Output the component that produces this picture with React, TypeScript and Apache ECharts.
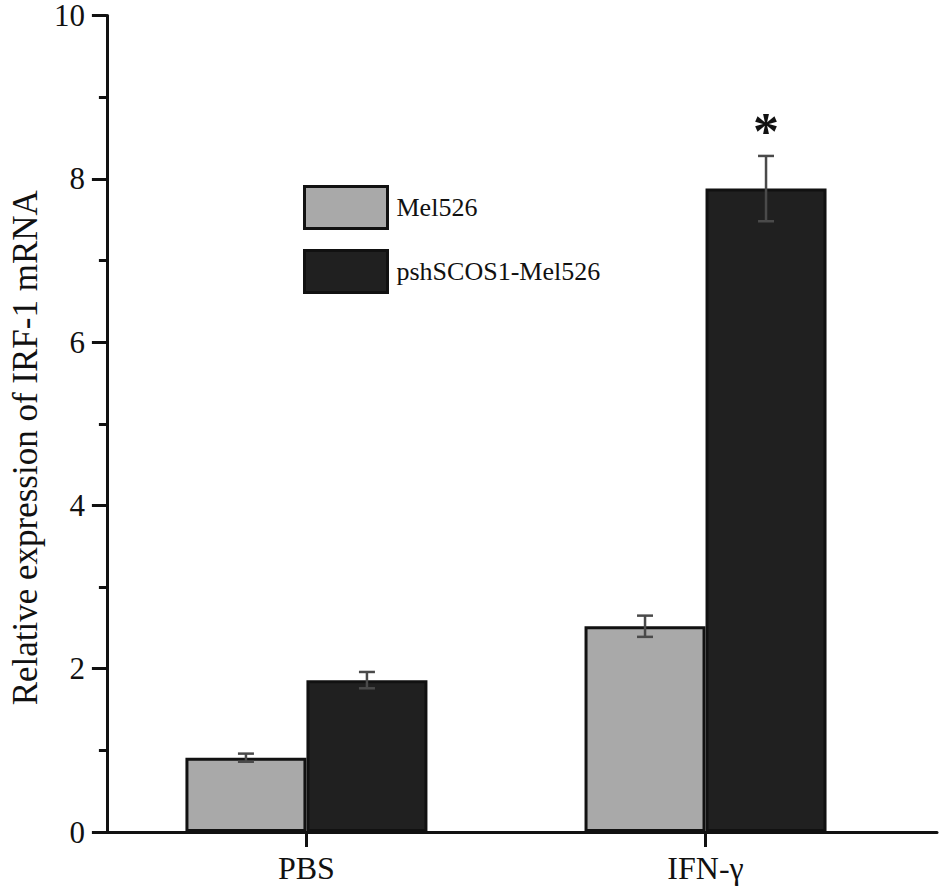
import React, { useEffect, useRef } from "react";
import * as echarts from "echarts";

const categories = ["PBS", "IFN-γ"];
const seriesNames = ["Mel526", "pshSCOS1-Mel526"];
const mel526Values = [0.91, 2.52];
const mel526Errors = [0.05, 0.13];
const pshValues = [1.86, 7.88];
const pshErrors = [0.1, 0.4];
const pshSignificance = ["", "*"];
const yAxisTitle = "Relative expression of IRF-1 mRNA";

const FONT = "'Liberation Serif', 'Times New Roman', serif";
const BAR_W = 121;

// category i sits at position 2*i+1 on the value-based x axis
const catPos = (i: number) => 2 * i + 1;

export default function App() {
  const ref = useRef<HTMLDivElement>(null);
  useEffect(() => {
    if (!ref.current) return;
    const chart = echarts.init(ref.current, null, { renderer: "svg" });

    const errData: any[] = [];
    categories.forEach((_, i) => {
      errData.push([catPos(i), mel526Values[i], mel526Errors[i], -1, ""]);
      errData.push([catPos(i), pshValues[i], pshErrors[i], 1, pshSignificance[i]]);
    });

    chart.setOption({
      animation: false,
      backgroundColor: "#ffffff",
      textStyle: { fontFamily: FONT },
      grid: { left: 101, right: 8, top: 15, bottom: 64 },
      legend: {
        data: seriesNames,
        orient: "vertical",
        left: 303,
        top: 185,
        padding: 0,
        itemWidth: 83,
        itemHeight: 42,
        itemGap: 19,
        icon: "rect",
        itemStyle: { borderColor: "#111", borderWidth: 3 },
        textStyle: { fontSize: 26, fontFamily: FONT, color: "#111", padding: [0, 0, 0, 4] },
      },
      xAxis: {
        type: "value",
        min: 0,
        max: 4.16,
        axisLine: { show: true, onZero: false, lineStyle: { color: "#111", width: 3 } },
        axisTick: { show: true, customValues: categories.map((_, i) => catPos(i)), length: 15, lineStyle: { color: "#111", width: 3 } },
        axisLabel: {
          customValues: categories.map((_, i) => catPos(i)),
          formatter: (v: number) => categories[Math.round((v - 1) / 2)] ?? "",
          fontSize: 32,
          fontFamily: FONT,
          color: "#111",
          margin: 20,
        },
        splitLine: { show: false },
      },
      yAxis: {
        type: "value",
        min: 0,
        max: 10,
        interval: 2,
        name: yAxisTitle,
        nameLocation: "middle",
        nameGap: 62,
        nameTextStyle: { fontSize: 35, fontFamily: FONT, color: "#111", padding: [0, 48, 0, 0] },
        axisLine: { show: true, lineStyle: { color: "#111", width: 3 } },
        axisTick: { show: true, length: 15, lineStyle: { color: "#111", width: 3 } },
        minorTick: { show: true, splitNumber: 2, length: 8, lineStyle: { color: "#111", width: 3 } },
        axisLabel: { fontSize: 31, fontFamily: FONT, color: "#111", margin: 22 },
        splitLine: { show: false },
        minorSplitLine: { show: false },
      },
      series: [
        {
          name: seriesNames[0],
          type: "bar",
          barWidth: BAR_W,
          barGap: "0%",
          data: mel526Values.map((v, i) => [catPos(i), v]),
          itemStyle: { color: "#a9a9a9", borderColor: "#111", borderWidth: 3 },
        },
        {
          name: seriesNames[1],
          type: "bar",
          barWidth: BAR_W,
          barGap: "0%",
          data: pshValues.map((v, i) => [catPos(i), v]),
          itemStyle: { color: "#202020", borderColor: "#111", borderWidth: 3 },
        },
        {
          type: "custom",
          z: 10,
          clip: false,
          encode: { x: 0, y: 1 },
          data: errData,
          renderItem: (params: any, api: any) => {
            const x = api.value(0);
            const v = api.value(1);
            const e = api.value(2);
            const side = api.value(3);
            const mark = errData[params.dataIndex][4];
            const top = api.coord([x, v + e]);
            const bot = api.coord([x, v - e]);
            const cx = top[0] + (side * BAR_W) / 2;
            const cap = 8;
            const style = { stroke: "#4a4a4a", lineWidth: 2.5 };
            const children: any[] = [
              { type: "line", shape: { x1: cx, y1: top[1], x2: cx, y2: bot[1] }, style },
              { type: "line", shape: { x1: cx - cap, y1: top[1], x2: cx + cap, y2: top[1] }, style },
              { type: "line", shape: { x1: cx - cap, y1: bot[1], x2: cx + cap, y2: bot[1] }, style },
            ];
            if (mark) {
              children.push({
                type: "text",
                style: {
                  text: mark,
                  x: cx,
                  y: top[1] - 24,
                  align: "center",
                  verticalAlign: "middle",
                  fontSize: 52,
                  fontWeight: "bold",
                  fontFamily: FONT,
                  fill: "#111",
                },
              });
            }
            return { type: "group", children };
          },
        },
      ],
    });
    return () => chart.dispose();
  }, []);
  return (
    <div
      ref={ref}
      style={{ position: "fixed", left: 0, top: 0, width: 945, height: 896, background: "#fff" }}
    />
  );
}
